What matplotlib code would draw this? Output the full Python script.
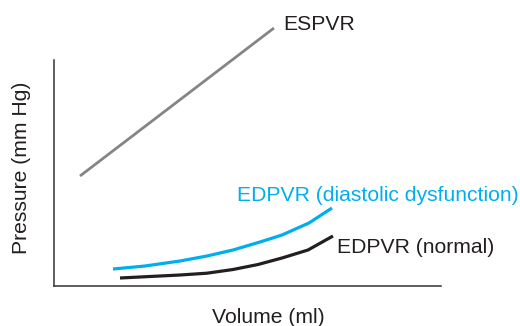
import numpy as np
import matplotlib
matplotlib.use("Agg")
import matplotlib.pyplot as plt

plt.rcParams['font.family'] = ['Liberation Sans', 'DejaVu Sans']

# curves (volume, pressure in arbitrary units)
espvr_vol = [26, 220]
espvr_p = [110, 258]

dys_vol = [59, 91, 126, 153, 179, 206, 228, 255, 278]
dys_p = [17, 20, 25, 30, 36, 44, 51, 63, 78]

norm_vol = [66, 126, 153, 179, 204, 228, 254, 279]
norm_p = [8, 11, 12.8, 16.5, 21.5, 28, 36, 50]

labels = ["ESPVR", "EDPVR (diastolic dysfunction)", "EDPVR (normal)"]

W, H = 520, 326
fig = plt.figure(figsize=(W/100, H/100), dpi=100)
ax = fig.add_axes([54/W, (H-286)/H, (441-54)/W, (286-60)/H])

line_kw = dict(clip_on=False, solid_capstyle="butt", solid_joinstyle="round")
ax.plot(espvr_vol, espvr_p, color="#858585", lw=2.0, **line_kw)
ax.plot(dys_vol, dys_p, color="#00aeef", lw=2.3, **line_kw)
ax.plot(norm_vol, norm_p, color="#231f20", lw=2.3, **line_kw)

ax.set_xlim(0, 387)
ax.set_ylim(0, 226)

for s in ("top", "right"):
    ax.spines[s].set_visible(False)
for s in ("left", "bottom"):
    ax.spines[s].set_linewidth(1.1)
    ax.spines[s].set_color("#333333")
ax.set_xticks([])
ax.set_yticks([])

fs = 15.2
ax.text(229, 256, labels[0], fontsize=fs, color="#231f20", va="baseline", ha="left")
ax.text(183, 85, labels[1], fontsize=fs, color="#00aeef", va="baseline", ha="left")
ax.text(283, 33, labels[2], fontsize=fs, color="#231f20", va="baseline", ha="left")

fig.text(268/W, 1 - 323/H, "Volume (ml)", fontsize=fs, color="#231f20",
         ha="center", va="baseline")
fig.text(21.5/W, 1 - 167.5/H, "Pressure (mm Hg)", fontsize=fs, color="#231f20",
         ha="center", va="center", rotation=90)

fig.savefig("out.png", dpi=100)
